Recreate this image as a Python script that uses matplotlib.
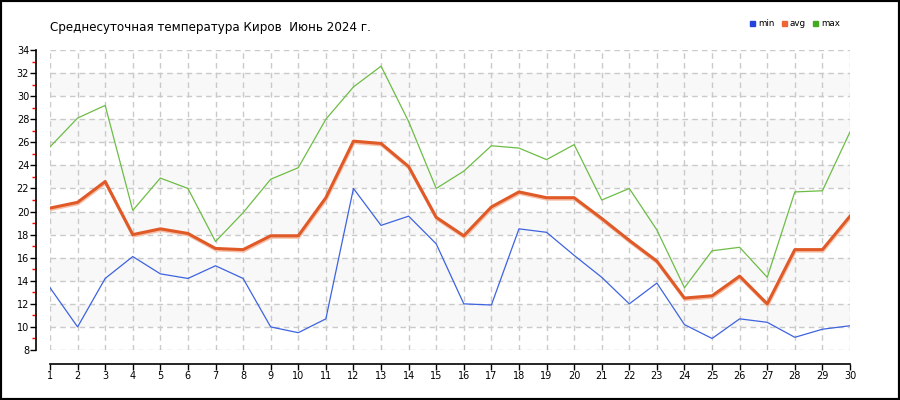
import matplotlib.pyplot as plt
from matplotlib.patches import Rectangle
import matplotlib.transforms as mtransforms

days = list(range(1, 31))
t_min = [13.4, 10.0, 14.2, 16.1, 14.6, 14.2, 15.3, 14.2, 10.0, 9.5,
         10.7, 22.0, 18.8, 19.6, 17.2, 12.0, 11.9, 18.5, 18.2, 16.2,
         14.3, 12.0, 13.8, 10.2, 9.0, 10.7, 10.4, 9.1, 9.8, 10.1]
t_avg = [20.3, 20.8, 22.6, 18.0, 18.5, 18.1, 16.8, 16.7, 17.9, 17.9,
         21.2, 26.1, 25.9, 23.9, 19.5, 17.9, 20.4, 21.7, 21.2, 21.2,
         19.4, 17.5, 15.7, 12.5, 12.7, 14.4, 12.0, 16.7, 16.7, 19.6]
t_max = [25.6, 28.1, 29.2, 20.1, 22.9, 22.0, 17.4, 19.9, 22.8, 23.8,
         28.0, 30.8, 32.6, 27.8, 22.0, 23.5, 25.7, 25.5, 24.5, 25.8,
         21.0, 22.0, 18.4, 13.4, 16.6, 16.9, 14.3, 21.7, 21.8, 26.9]
yticks = list(range(8, 35, 2))
title = "Среднесуточная температура Киров  Июнь 2024 г."

fig = plt.figure(figsize=(9, 4), dpi=100)
ax = fig.add_axes([50/900, 50/400, 800/900, 300/400])
ax.set_xlim(1, 30)
ax.set_ylim(8, 34)

# alternating bands
for lo in range(10, 33, 4):
    ax.axhspan(lo, lo + 2, color='#f8f8f8', zorder=0, lw=0)

ax.set_xticks(days)
ax.set_yticks(yticks)
ax.set_yticks(range(9, 34, 2), minor=True)
ax.grid(True, which='major', color='#cacaca', linestyle=(0, (4, 3)), lw=1, zorder=1)

for s in ['top', 'right']:
    ax.spines[s].set_visible(False)
ax.spines['left'].set_position(('outward', 10))
ax.spines['bottom'].set_position(('outward', 10))
ax.spines['left'].set_linewidth(1.2)
ax.spines['bottom'].set_linewidth(1.2)

ax.tick_params(axis='both', which='major', length=4, width=1, labelsize=7, pad=1, colors='black')
ax.tick_params(axis='y', which='minor', length=3, width=1, color='red')
ax.tick_params(axis='x', which='minor', length=0)

ax.plot(days, t_min, color='#3e63e0', lw=0.9, zorder=3)
ax.plot(days, t_max, color='#6dbd45', lw=0.9, zorder=3)
shadow = mtransforms.offset_copy(ax.transData, fig=fig, x=0.5, y=-1.5, units='dots')
ax.plot(days, t_avg, color='#f5c0a8', lw=2.2, transform=shadow, zorder=3)
ax.plot(days, t_avg, color='#e05a28', lw=2.2, zorder=4)

fig.text(50/900, 1 - 28/400, title, fontsize=8.6, va='center', ha='left')

# legend
for x0, col, lab in [(750, '#2244dd', 'min'), (782, '#ee6633', 'avg'), (813, '#44aa22', 'max')]:
    fig.patches.append(Rectangle((x0/900, 1 - 26/400), 5/900, 5/400,
                                 transform=fig.transFigure, color=col))
    fig.text((x0 + 8)/900, 1 - 23/400, lab, fontsize=6.3, va='center', ha='left')

# outer frame
fig.patches.append(Rectangle((0, 0), 1, 1, transform=fig.transFigure,
                             fill=False, ec='black', lw=3))

fig.savefig('out.png', dpi=100)
